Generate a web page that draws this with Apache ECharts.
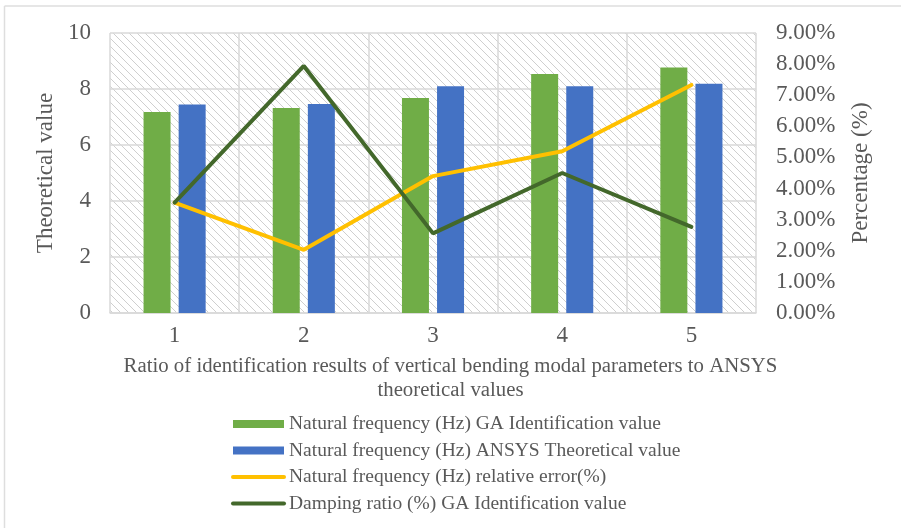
<!DOCTYPE html>
<html>
<head>
<meta charset="utf-8">
<script src="https://cdn.jsdelivr.net/npm/echarts@6/dist/echarts.min.js"></script>
<style>
  html, body { margin: 0; padding: 0; background: #fff; }
  #chart { width: 901px; height: 528px; }
</style>
</head>
<body>
<div id="chart"></div>
<script>
// Mode numbers on the category axis
const categories = ['1', '2', '3', '4', '5'];
// Natural frequency (Hz), left axis
const gaFrequency = [7.18, 7.32, 7.68, 8.54, 8.77];
const ansysFrequency = [7.45, 7.46, 8.10, 8.10, 8.19];
// Percentages, right axis
const relativeError = [3.55, 2.03, 4.40, 5.20, 7.33];
const dampingRatio = [3.55, 7.94, 2.56, 4.50, 2.77];

const seriesNames = [
  'Natural frequency (Hz) GA Identification value',
  'Natural frequency (Hz) ANSYS Theoretical value',
  'Natural frequency (Hz) relative error(%)',
  'Damping ratio (%) GA Identification value'
];

const FONT = '"Liberation Serif", "Times New Roman", serif';
const TEXT = '#595959';
const GRID = '#D9D9D9';
const ERR_COLOR = '#FFC000';
const DAMP_COLOR = '#43682B';

// Diagonal hatch tile used as the plot background
function hatchTile() {
  const s = 8;
  const c = document.createElement('canvas');
  c.width = s; c.height = s;
  const g = c.getContext('2d');
  g.strokeStyle = '#CFCFCF';
  g.lineWidth = 1;
  g.beginPath();
  g.moveTo(-1, -1); g.lineTo(s + 1, s + 1);
  g.moveTo(-1, s - 1); g.lineTo(1, s + 1);
  g.moveTo(s - 1, -1); g.lineTo(s + 1, 1);
  g.stroke();
  return c;
}

const chart = echarts.init(document.getElementById('chart'), null, { renderer: 'canvas' });

chart.setOption({
  animation: false,
  backgroundColor: '#fff',
  textStyle: { fontFamily: FONT, color: TEXT },
  grid: {
    left: 110, right: 145, top: 33, bottom: 215,
    show: true,
    borderWidth: 0,
    backgroundColor: { image: hatchTile(), repeat: 'repeat' }
  },
  graphic: [
    { type: 'line', shape: { x1: 4.5, y1: 6, x2: 4.5, y2: 528 }, style: { stroke: '#DEDEDE', lineWidth: 1.5 } },
    { type: 'line', shape: { x1: 4.5, y1: 6, x2: 901, y2: 6 }, style: { stroke: '#DEDEDE', lineWidth: 1.5 } }
  ],
  legend: {
    orient: 'vertical',
    left: 231,
    top: 414,
    padding: 0,
    itemWidth: 51,
    itemHeight: 8,
    itemGap: 6.5,
    textStyle: { fontFamily: FONT, fontSize: 19.5, color: TEXT, lineHeight: 20, padding: [0, 0, 0, 0] },
    data: [
      { name: seriesNames[0], icon: 'rect' },
      { name: seriesNames[1], icon: 'rect' },
      {
        name: seriesNames[2],
        itemStyle: { opacity: 0 },
        lineStyle: { color: ERR_COLOR, width: 4, cap: 'round' }
      },
      {
        name: seriesNames[3],
        itemStyle: { opacity: 0 },
        lineStyle: { color: DAMP_COLOR, width: 4, cap: 'round' }
      }
    ]
  },
  xAxis: {
    type: 'category',
    data: categories,
    boundaryGap: true,
    axisLine: { lineStyle: { color: GRID, width: 1.5 } },
    axisTick: { show: false },
    axisLabel: { fontFamily: FONT, fontSize: 23, color: TEXT, margin: 11 },
    splitLine: { show: true, lineStyle: { color: GRID, width: 1.5 } },
    name: 'Ratio of identification results of vertical bending modal parameters to ANSYS\ntheoretical values',
    nameLocation: 'middle',
    nameGap: 42,
    nameTextStyle: { fontFamily: FONT, fontSize: 20.8, color: TEXT, lineHeight: 24, padding: [0, 0, 0, 35] }
  },
  yAxis: [
    {
      type: 'value',
      min: 0, max: 10, interval: 2,
      axisLine: { show: false },
      axisTick: { show: false },
      axisLabel: { fontFamily: FONT, fontSize: 23, color: TEXT, margin: 19 },
      splitLine: { show: true, lineStyle: { color: GRID, width: 1.5 } },
      name: 'Theoretical value',
      nameLocation: 'middle',
      nameGap: 52,
      nameTextStyle: { fontFamily: FONT, fontSize: 23, color: TEXT }
    },
    {
      type: 'value',
      min: 0, max: 9, interval: 1,
      position: 'right',
      axisLine: { show: false },
      axisTick: { show: false },
      axisLabel: {
        fontFamily: FONT, fontSize: 23, color: TEXT, margin: 20,
        formatter: v => v.toFixed(2) + '%'
      },
      splitLine: { show: false },
      name: 'Percentage (%)',
      nameLocation: 'middle',
      nameGap: 93,
      nameTextStyle: { fontFamily: FONT, fontSize: 23, color: TEXT }
    }
  ],
  series: [
    {
      name: seriesNames[0], type: 'bar', data: gaFrequency,
      barWidth: 27, barGap: '30%',
      itemStyle: { color: '#70AD47' }
    },
    {
      name: seriesNames[1], type: 'bar', data: ansysFrequency,
      barWidth: 27, barGap: '30%',
      itemStyle: { color: '#4472C4' }
    },
    {
      name: seriesNames[2], type: 'line', data: relativeError, yAxisIndex: 1,
      symbol: 'none', color: ERR_COLOR,
      lineStyle: { color: ERR_COLOR, width: 4, cap: 'round' }
    },
    {
      name: seriesNames[3], type: 'line', data: dampingRatio, yAxisIndex: 1,
      symbol: 'none', color: DAMP_COLOR,
      lineStyle: { color: DAMP_COLOR, width: 4, cap: 'round' }
    }
  ]
});
</script>
</body>
</html>
